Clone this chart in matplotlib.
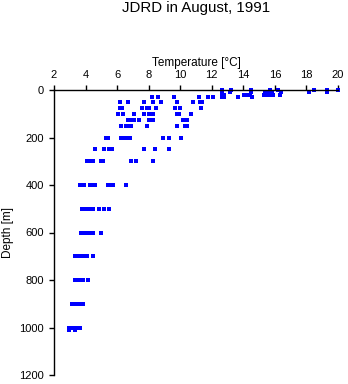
import matplotlib
matplotlib.use("Agg")
import matplotlib.pyplot as plt

depths = [0, 10, 20, 30, 50, 75, 100, 125, 150, 200, 250, 300,
          400, 500, 600, 700, 800, 900, 1000, 1010]
temperature_by_depth = [
    [12.64, 13.23, 14.5, 15.7, 16.18, 18.49, 19.3, 20.0],
    [12.64, 13.15, 14.5, 15.4, 15.6, 15.8, 16.37, 18.15, 19.3],
    [12.64, 12.8, 14.04, 14.25, 14.4, 15.3, 15.57, 15.75, 15.9, 16.33],
    [8.21, 8.59, 9.61, 11.21, 11.73, 12.1, 12.64, 12.8, 13.64, 14.53],
    [6.17, 6.68, 7.70, 8.27, 8.78, 9.80, 10.83, 11.27, 11.4],
    [6.2, 6.3, 7.57, 7.9, 8.0, 8.46, 9.68, 10.0, 11.3],
    [6.06, 6.36, 7.06, 7.70, 8.02, 8.27, 9.8, 9.93, 10.7],
    [6.7, 6.9, 7.1, 7.38, 8.05, 8.3, 10.2, 10.4],
    [6.23, 6.55, 6.7, 6.89, 7.89, 9.8, 10.31, 10.44],
    [5.3, 5.4, 6.23, 6.4, 6.6, 6.83, 8.91, 9.29, 10.06],
    [4.57, 5.15, 5.46, 5.66, 7.7, 8.4, 9.29],
    [4.06, 4.25, 4.45, 4.95, 5.08, 6.87, 7.19, 8.27],
    [3.64, 3.93, 4.25, 4.4, 4.57, 5.4, 5.55, 5.72, 6.55],
    [3.76, 4.0, 4.2, 4.45, 4.83, 5.15, 5.47],
    [3.7, 3.95, 4.2, 4.45, 4.95],
    [3.3, 3.6, 3.75, 3.9, 4.09, 4.47],
    [3.36, 3.6, 3.85, 4.15],
    [3.17, 3.4, 3.6, 3.83],
    [2.98, 3.2, 3.4, 3.64],
    [2.98, 3.3],
]
x_ticks = [2, 4, 6, 8, 10, 12, 14, 16, 18, 20]
y_ticks = [0, 200, 400, 600, 800, 1000, 1200]

plt.rcParams['font.family'] = ['Liberation Sans', 'DejaVu Sans']

fig = plt.figure(figsize=(3.48, 3.84), dpi=100)
ax = fig.add_axes([54/348, 1 - 375/384, (338-54)/348, (375-90)/384])

xs, ys = [], []
for d, temps in zip(depths, temperature_by_depth):
    for t in temps:
        xs.append(t)
        ys.append(d)
ax.plot(xs, ys, linestyle='none', marker='s', markersize=2.2,
        markeredgewidth=0, color='#0000ff', clip_on=False)

ax.set_xlim(2, 20)
ax.set_ylim(1200, 0)
ax.set_xticks(x_ticks)
ax.set_yticks(y_ticks)
ax.xaxis.tick_top()
ax.xaxis.set_label_position('top')
for s in ['right', 'bottom']:
    ax.spines[s].set_visible(False)
for s in ['left', 'top']:
    ax.spines[s].set_linewidth(1.0)
ax.tick_params(axis='both', direction='out', length=3.8, width=1.0,
               labelsize=8, pad=3.5)
ax.set_xlabel('Temperature [°C]', fontsize=8.5, labelpad=3)
ax.set_ylabel('Depth [m]', fontsize=8.5, labelpad=4)
fig.suptitle('JDRD in August, 1991', x=196/348, y=1 - 1/384, fontsize=10.8,
             va='top')

fig.savefig('out.png', dpi=100)
